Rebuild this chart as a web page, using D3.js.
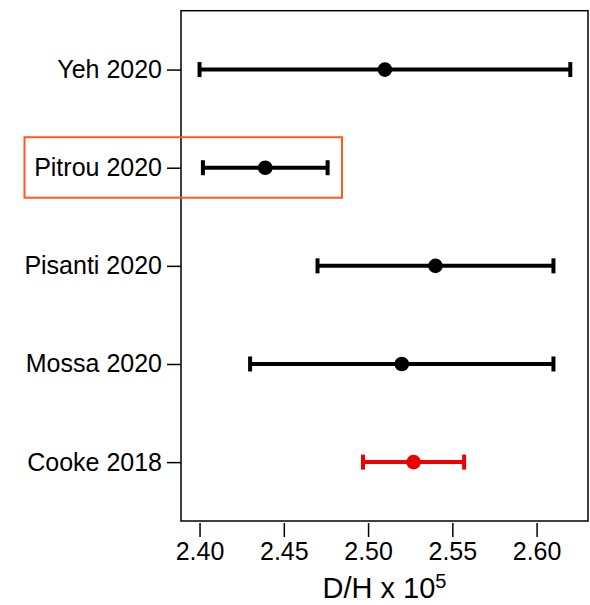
<!DOCTYPE html>
<html>
<head>
<meta charset="utf-8">
<script src="https://cdn.jsdelivr.net/npm/d3@7"></script>
<style>
  html, body { margin: 0; padding: 0; background: #fff; }
  svg { display: block; font-family: "Liberation Sans", Arial, Helvetica, sans-serif; }
</style>
</head>
<body>
<svg id="chart" width="590" height="605"></svg>
<script>
// D/H measurements (x 10^5) with their error ranges
const studies = ["Yeh 2020", "Pitrou 2020", "Pisanti 2020", "Mossa 2020", "Cooke 2018"];
const central = [2.51, 2.439, 2.54, 2.52, 2.527];
const lower   = [2.40, 2.402, 2.47, 2.43, 2.497];
const upper   = [2.62, 2.476, 2.61, 2.61, 2.557];
const seriesColor = ["#000000", "#000000", "#000000", "#000000", "#ee0000"];
const xTicks = [2.40, 2.45, 2.50, 2.55, 2.60];
const highlighted = "Pitrou 2020";

const svg = d3.select("#chart");

const frame = { left: 181, right: 588, top: 10.7, bottom: 521 };

const x = d3.scaleLinear()
  .domain([2.389, 2.6305])
  .range([frame.left, frame.right]);

const y = d3.scalePoint()
  .domain(studies)
  .range([frame.top, frame.bottom])
  .padding(0.6);

// plot box
svg.append("rect")
  .attr("x", frame.left).attr("y", frame.top)
  .attr("width", frame.right - frame.left)
  .attr("height", frame.bottom - frame.top)
  .attr("fill", "none").attr("stroke", "#000").attr("stroke-width", 1.5);

// x axis: detached ticks below the box
const xAxis = d3.axisBottom(x)
  .tickValues(xTicks)
  .tickFormat(d3.format(".2f"))
  .tickSize(14)
  .tickPadding(5);

const gx = svg.append("g")
  .attr("transform", `translate(0,${frame.bottom + 2})`)
  .call(xAxis);
gx.select(".domain").remove();
gx.selectAll(".tick line").attr("stroke", "#000").attr("stroke-width", 1.5);
gx.selectAll(".tick text")
  .attr("fill", "#000")
  .style("font-size", "25px")
  .style("font-family", "'Liberation Sans', Arial, sans-serif");

// y axis: study names
const yAxis = d3.axisLeft(y)
  .tickSize(14)
  .tickPadding(5);

const gy = svg.append("g")
  .attr("transform", `translate(${frame.left},0)`)
  .call(yAxis);
gy.select(".domain").remove();
gy.selectAll(".tick line").attr("stroke", "#000").attr("stroke-width", 1.5);
gy.selectAll(".tick text")
  .attr("fill", "#000")
  .style("font-size", "25px")
  .style("font-family", "'Liberation Sans', Arial, sans-serif");

// axis title
const title = svg.append("text")
  .attr("x", (frame.left + frame.right) / 2)
  .attr("y", 598)
  .attr("text-anchor", "middle")
  .style("font-size", "29px")
  .attr("fill", "#000");
title.append("tspan").text("D/H x 10");
title.append("tspan").attr("dy", -10).style("font-size", "20px").text("5");

// error bars with caps and central points
const rows = studies.map((s, i) => ({
  study: s, c: central[i], lo: lower[i], hi: upper[i], color: seriesColor[i]
}));

const capHalf = 7.5;
const g = svg.append("g");
const row = g.selectAll("g.row").data(rows).join("g").attr("class", "row");

row.append("line")
  .attr("x1", d => x(d.lo)).attr("x2", d => x(d.hi))
  .attr("y1", d => y(d.study)).attr("y2", d => y(d.study))
  .attr("stroke", d => d.color).attr("stroke-width", 4);

row.append("line")
  .attr("x1", d => x(d.lo)).attr("x2", d => x(d.lo))
  .attr("y1", d => y(d.study) - capHalf).attr("y2", d => y(d.study) + capHalf)
  .attr("stroke", d => d.color).attr("stroke-width", 4);

row.append("line")
  .attr("x1", d => x(d.hi)).attr("x2", d => x(d.hi))
  .attr("y1", d => y(d.study) - capHalf).attr("y2", d => y(d.study) + capHalf)
  .attr("stroke", d => d.color).attr("stroke-width", 4);

row.append("circle")
  .attr("cx", d => x(d.c)).attr("cy", d => y(d.study))
  .attr("r", 7.3)
  .attr("fill", d => d.color);

// highlight box around one study
svg.append("rect")
  .attr("x", 24.5)
  .attr("y", y(highlighted) - 30.5)
  .attr("width", 342 - 24.5)
  .attr("height", 60.5)
  .attr("fill", "none")
  .attr("stroke", "#ff5a1e")
  .attr("stroke-width", 2);
</script>
</body>
</html>
